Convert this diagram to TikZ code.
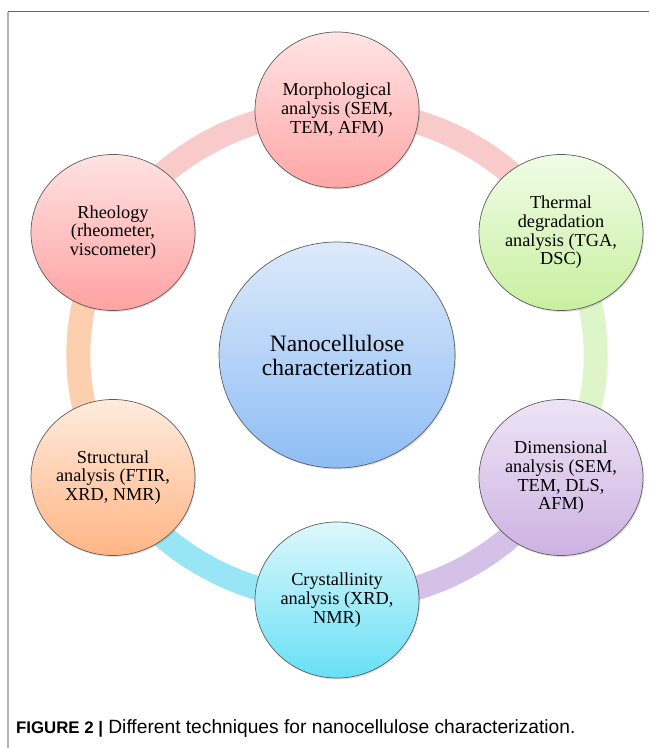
\documentclass[tikz,border=0pt]{standalone}
\usepackage{fontspec}
\setmainfont{Liberation Serif}
\newfontfamily\capfont{Liberation Sans}
\usetikzlibrary{shapes.geometric,shadows,backgrounds}

\definecolor{bubbleline}{HTML}{5E5E5E}
\definecolor{morphtop}{HTML}{FFE4E4}
\definecolor{morphbot}{HTML}{FFA6A6}
\definecolor{thermtop}{HTML}{F0FCE6}
\definecolor{thermbot}{HTML}{C8F0A0}
\definecolor{dimtop}{HTML}{EEE4F6}
\definecolor{dimbot}{HTML}{CDB2E2}
\definecolor{crysttop}{HTML}{DCF8FC}
\definecolor{crystbot}{HTML}{68E0F5}
\definecolor{structtop}{HTML}{FFEBDD}
\definecolor{structbot}{HTML}{FFB584}
\definecolor{rheotop}{HTML}{FFE2E2}
\definecolor{rheobot}{HTML}{FFA2A2}
\definecolor{nanotop}{HTML}{DDEAFA}
\definecolor{nanobot}{HTML}{8EBDF5}
\definecolor{bandpink}{HTML}{F8CACA}
\definecolor{bandgreen}{HTML}{DDF5C8}
\definecolor{bandpurple}{HTML}{D5C0E8}
\definecolor{bandcyan}{HTML}{98E6F5}
\definecolor{bandpeach}{HTML}{FCCFAE}

\begin{document}
\begin{tikzpicture}[x=1pt, y=1pt,
	bubble/.style={ellipse, draw=bubbleline, line width=0.7pt, minimum width=164pt, minimum height=156pt, inner sep=0pt, align=center, font=\fontsize{18.3}{18.7}\selectfont, drop shadow={shadow xshift=1pt, shadow yshift=-1.5pt, opacity=0.25}},
	band/.style={line width=24pt}]
	\useasboundingbox (0,0) rectangle (649,748);
	\draw[line width=1pt, black!60] (8,736) -- (649,736);
	\draw[line width=1.5pt, black!30] (8,0) -- (8,736);
	\node[bubble, minimum width=236pt, minimum height=226pt, top color=nanotop, bottom color=nanobot, font=\fontsize{23.5}{24}\selectfont] (nano) at (337,393) {Nanocellulose\\characterization};
	\node[bubble, top color=morphtop, bottom color=morphbot] (morph) at (337,638) {Morphological\\analysis (SEM,\\TEM, AFM)};
	\node[bubble, top color=thermtop, bottom color=thermbot] (therm) at (561,515.5) {Thermal\\degradation\\analysis (TGA,\\DSC)};
	\node[bubble, top color=dimtop, bottom color=dimbot] (dim) at (561,270.5) {Dimensional\\analysis (SEM,\\TEM, DLS,\\AFM)};
	\node[bubble, top color=crysttop, bottom color=crystbot] (cryst) at (337,148) {Crystallinity\\analysis (XRD,\\NMR)};
	\node[bubble, top color=structtop, bottom color=structbot] (struct) at (113,270.5) {Structural\\analysis (FTIR,\\XRD, NMR)};
	\node[bubble, top color=rheotop, bottom color=rheobot] (rheo) at (113,515.5) {Rheology\\(rheometer,\\viscometer)};
	% ring behind the bubbles
	\begin{scope}[on background layer]
		\draw[band, bandpink] (morph.center) arc[start angle=90, end angle=30, x radius=259, y radius=245];
		\draw[band, bandgreen] (therm.center) arc[start angle=30, end angle=-30, x radius=259, y radius=245];
		\draw[band, bandpurple] (dim.center) arc[start angle=-30, end angle=-90, x radius=259, y radius=245];
		\draw[band, bandcyan] (cryst.center) arc[start angle=-90, end angle=-150, x radius=259, y radius=245];
		\draw[band, bandpeach] (struct.center) arc[start angle=-150, end angle=-210, x radius=259, y radius=245];
		\draw[band, bandpink] (rheo.center) arc[start angle=150, end angle=90, x radius=259, y radius=245];
	\end{scope}
	\node[anchor=base west, inner sep=0pt, font=\capfont\fontsize{19.2}{20}\selectfont] (caption) at (16,15) {{\fontsize{16.8}{20}\selectfont\bfseries FIGURE 2 |} Different techniques for nanocellulose characterization.};
\end{tikzpicture}
\end{document}
